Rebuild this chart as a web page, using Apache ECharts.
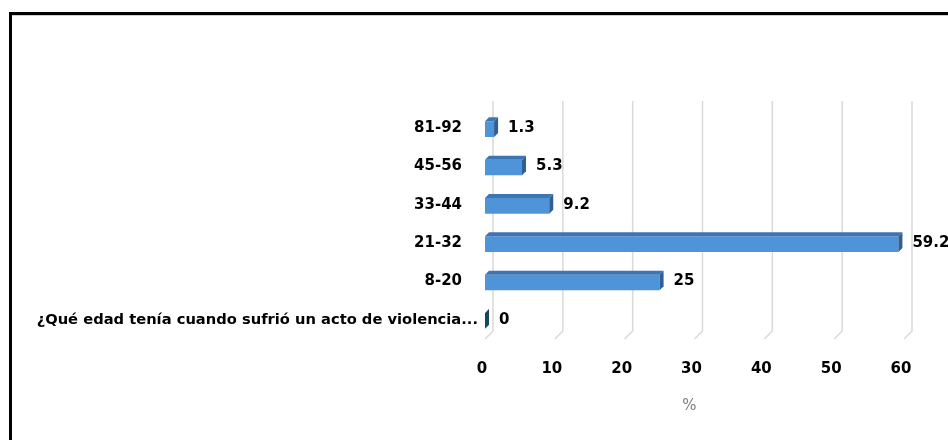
<!DOCTYPE html>
<html>
<head>
<meta charset="utf-8">
<script src="https://cdn.jsdelivr.net/npm/echarts@6/dist/echarts.min.js"></script>
<style>
html,body{margin:0;padding:0;background:#fff;}
#frame{position:absolute;left:9px;top:12px;width:960px;height:440px;border-left:3px solid #000;border-top:3px solid #000;}
#inner{position:absolute;left:12px;top:15px;width:940px;height:1px;background:#d0d0d0;}
#chart{position:absolute;left:0;top:0;width:948px;height:440px;}
</style>
</head>
<body>
<div id="frame"></div>
<div id="inner"></div>
<div id="chart"></div>
<script>
const categories = ['¿Qué edad tenía cuando sufrió un acto de violencia...', '8-20', '21-32', '33-44', '45-56', '81-92'];
const values = [0, 25, 59.2, 9.2, 5.3, 1.3];
const xTicks = [0, 10, 20, 30, 40, 50, 60];
const axisName = '%';

const FONT = '"DejaVu Sans", sans-serif';
const DEPTH_GRID = 8;
const DEPTH_BAR = 4;

const chart = echarts.init(document.getElementById('chart'), null, {renderer: 'canvas'});

function renderGrid(params, api) {
  const cs = params.coordSys;
  const px = api.coord([api.value(0), 0])[0];
  return {
    type: 'polyline',
    shape: {points: [[px + DEPTH_GRID, cs.y - DEPTH_GRID], [px + DEPTH_GRID, cs.y + cs.height - DEPTH_GRID], [px, cs.y + cs.height]]},
    style: {stroke: '#d9d9d9', lineWidth: 1.5, fill: null}
  };
}

function renderBar(params, api) {
  const v = api.value(0);
  const c = api.value(1);
  const p0 = api.coord([0, c]);
  const p1 = api.coord([v, c]);
  const h = api.size([0, 1])[1] * 0.41;
  const d = DEPTH_BAR;
  const y0 = p0[1] - h / 2 + 1;
  const x0 = p0[0], x1 = p1[0];
  const children = [];
  if (x1 > x0) {
    children.push({type: 'rect', shape: {x: x0, y: y0, width: x1 - x0, height: h}, style: {fill: '#4f93d8'}});
    children.push({type: 'polygon', shape: {points: [[x0, y0], [x0 + d, y0 - d], [x1 + d, y0 - d], [x1, y0]]}, style: {fill: '#3d75b3'}});
    children.push({type: 'polygon', shape: {points: [[x1, y0], [x1 + d, y0 - d], [x1 + d, y0 + h - d], [x1, y0 + h]]}, style: {fill: '#2f5f93'}});
  } else {
    children.push({type: 'polygon', shape: {points: [[x1, y0], [x1 + d, y0 - d], [x1 + d, y0 + h - d], [x1, y0 + h]]}, style: {fill: '#17475c'}});
  }
  children.push({
    type: 'text',
    style: {
      text: String(v), x: x1 + d + 10, y: p0[1], verticalAlign: 'middle', align: 'left',
      font: 'bold 15px ' + FONT, fill: '#000'
    }
  });
  return {type: 'group', children: children};
}

chart.setOption({
  animation: false,
  backgroundColor: 'transparent',
  grid: {left: 485, top: 109, width: 419, height: 230, containLabel: false},
  xAxis: {
    type: 'value', min: 0, max: 60, interval: 10,
    axisLine: {show: false}, axisTick: {show: false}, splitLine: {show: false},
    axisLabel: {
      margin: 23, color: '#000', fontSize: 15, fontWeight: 'bold', fontFamily: FONT,
      padding: [0, 6, 0, 0],
      formatter: function (val) { return xTicks.indexOf(val) >= 0 ? String(val) : ''; }
    },
    name: axisName, nameLocation: 'middle', nameGap: 60,
    nameTextStyle: {color: '#7f7f7f', fontSize: 15, fontFamily: FONT, padding: [0, 10, 0, 0]}
  },
  yAxis: {
    type: 'category', data: categories,
    axisLine: {show: false}, axisTick: {show: false}, splitLine: {show: false},
    axisLabel: {
      margin: 7, color: '#000', fontSize: 14.7, fontWeight: 'bold', fontFamily: FONT,
      formatter: function (val, idx) { return idx === 0 ? val : '{p|' + val + '}'; },
      rich: {p: {padding: [0, 16, 0, 0], color: '#000', fontSize: 15, fontWeight: 'bold', fontFamily: FONT}}
    }
  },
  series: [
    {type: 'custom', z: 1, silent: true, renderItem: renderGrid, data: xTicks.map(t => [t, 0]), encode: {x: 0, y: 1}},
    {type: 'custom', z: 2, renderItem: renderBar, data: values.map((v, i) => [v, i]), encode: {x: 0, y: 1}}
  ]
});
</script>
</body>
</html>
